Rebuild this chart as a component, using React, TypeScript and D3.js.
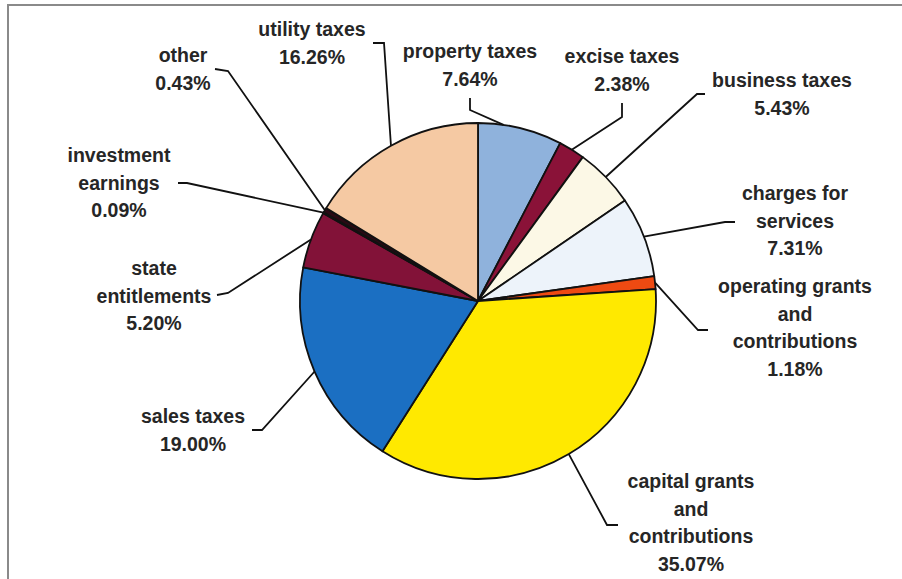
import React from "react";
import * as d3 from "d3";

const categories = [
  "property taxes",
  "excise taxes",
  "business taxes",
  "charges for services",
  "operating grants and contributions",
  "capital grants and contributions",
  "sales taxes",
  "state entitlements",
  "investment earnings",
  "other",
  "utility taxes",
];
const values = [7.64, 2.38, 5.43, 7.31, 1.18, 35.07, 19.0, 5.2, 0.09, 0.43, 16.26];
const valueLabels = ["7.64%", "2.38%", "5.43%", "7.31%", "1.18%", "35.07%", "19.00%", "5.20%", "0.09%", "0.43%", "16.26%"];
const labelLines = [
  ["property taxes"],
  ["excise taxes"],
  ["business taxes"],
  ["charges for", "services"],
  ["operating grants", "and", "contributions"],
  ["capital grants", "and", "contributions"],
  ["sales taxes"],
  ["state", "entitlements"],
  ["investment", "earnings"],
  ["other"],
  ["utility taxes"],
];
const colors = [
  "#8fb2dc",
  "#8a1238",
  "#fcf8e6",
  "#edf3fa",
  "#ee4a12",
  "#ffe900",
  "#1b6fc2",
  "#821238",
  "#5a1020",
  "#2a0a14",
  "#f5c9a3",
];

// layout: label center x, first baseline y, leader start, leader elbow, anchor fraction in slice
const labelPos: [number, number][] = [
  [470, 58], [622, 63], [782, 87], [795, 200], [795, 293], [691, 488],
  [193, 423], [154, 275], [119, 162], [183, 62], [312, 36],
];
const leaderStart: [number, number][] = [
  [470, 98], [622, 103], [705, 94], [735, 222], [708, 330], [618, 525],
  [252, 430], [217, 295], [178, 183], [215, 69], [373, 43],
];
const leaderElbow: [number, number][] = [
  [470, 110], [622, 117], [697, 94], [725, 222], [698, 330], [607, 525],
  [262, 430], [228, 293], [187, 183], [228, 71], [384, 43],
];
const anchorFrac = [0.3, 0.5, 0.5, 0.5, 0.5, 0.5, 0.5, 0.5, 0.5, 0.5, 0.5];

const W = 902;
const H = 579;
const cx = 478;
const cy = 301;
const R = 178;
const lineH = 27.5;

export default function App() {
  const pie = d3.pie<number>().sort(null).value((d) => d)(values);
  const arc = d3.arc<d3.PieArcDatum<number>>().innerRadius(0).outerRadius(R);
  const line = d3.line();

  return (
    <svg
      width={W}
      height={H}
      style={{ position: "fixed", left: 0, top: 0, background: "#fff" }}
      fontFamily="'Liberation Sans', Arial, sans-serif"
    >
      <rect x={0} y={0} width={W} height={H} fill="#fff" />
      <path d={`M8,${H + 2} L8,5 L${W + 2},5`} fill="none" stroke="#8a8a8a" strokeWidth={2} />
      <g transform={`translate(${cx},${cy})`}>
        {pie.map((p, i) => (
          <path key={i} d={arc(p) || ""} fill={colors[i]} stroke="#111" strokeWidth={1.8} strokeLinejoin="round" />
        ))}
      </g>
      {pie.map((p, i) => {
        const a = p.startAngle + anchorFrac[i] * (p.endAngle - p.startAngle);
        const anchor: [number, number] = [cx + R * Math.sin(a), cy - R * Math.cos(a)];
        return (
          <path
            key={"l" + i}
            d={line([leaderStart[i], leaderElbow[i], anchor]) || ""}
            fill="none"
            stroke="#111"
            strokeWidth={1.8}
          />
        );
      })}
      {categories.map((c, i) => {
        const lines = [...labelLines[i], valueLabels[i]];
        return (
          <text
            key={"t" + i}
            x={labelPos[i][0]}
            y={labelPos[i][1]}
            textAnchor="middle"
            fontSize={19.5}
            fontWeight="bold"
            fill="#262626"
          >
            {lines.map((s, j) => (
              <tspan key={j} x={labelPos[i][0]} y={labelPos[i][1] + j * lineH}>
                {s}
              </tspan>
            ))}
          </text>
        );
      })}
    </svg>
  );
}
